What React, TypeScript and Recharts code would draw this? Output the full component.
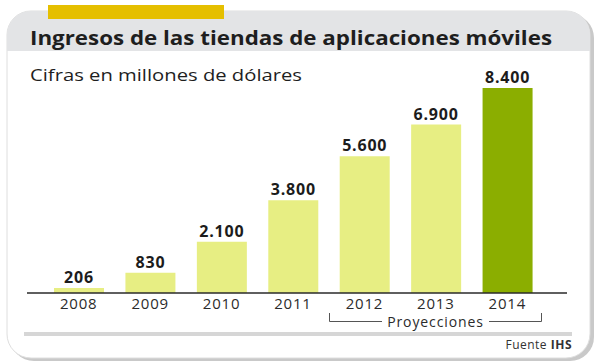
import { BarChart, Bar, XAxis, YAxis, Cell, LabelList } from 'recharts'

/* ── data ─────────────────────────────────────────── */

const years = ['2008', '2009', '2010', '2011', '2012', '2013', '2014']
const revenue = [206, 830, 2100, 3800, 5600, 6900, 8400]
const highlightYear = '2014'

const data = years.map((year, i) => ({ year, value: revenue[i] }))

const FONT = '"Open Sans", "DejaVu Sans", sans-serif'
const BAR = '#e7ee83'
const BAR_HI = '#8bae00'

const fmt = (v: number) => String(v).replace(/\B(?=(\d{3})+(?!\d))/g, '.')

function YearTick({ x, y, payload }: any) {
  return (
    <text x={x} y={y + 8} textAnchor="middle" fontFamily={FONT} fontSize={15} fill="#2b2b2b" letterSpacing={0.8}>
      {payload.value}
    </text>
  )
}

function ValueLabel({ x, y, width, value }: any) {
  return (
    <text x={x + width / 2} y={y - 5} textAnchor="middle" fontFamily={FONT} fontSize={16} fontWeight={700} fill="#1c1c1c" letterSpacing={0.8}>
      {fmt(value)}
    </text>
  )
}

/* ── frame behind the chart ───────────────────────── */

function Frame() {
  return (
    <svg width={600} height={363} style={{ position: 'absolute', left: 0, top: 0 }}>
      <defs>
        <clipPath id="card">
          <rect x={7} y={11} width={583} height={347} rx={24} />
        </clipPath>
      </defs>
      <rect x={10} y={14} width={584} height={347} rx={24} fill="#c9c9c9" />
      <rect x={7} y={11} width={583} height={347} rx={24} fill="#fff" stroke="#dedede" />
      <rect x={0} y={0} width={600} height={51} fill="#e3e4e6" clipPath="url(#card)" />
      <rect x={48} y={5} width={176} height={14} fill="#e5bf00" />
      <text x={30} y={45} fontFamily={FONT} fontSize={19} fontWeight={700} fill="#1e1e1e" textLength={522} lengthAdjust="spacingAndGlyphs">
        Ingresos de las tiendas de aplicaciones móviles
      </text>
      <text x={30} y={81} fontFamily={FONT} fontSize={17} fill="#1e1e1e" textLength={272} lengthAdjust="spacingAndGlyphs">
        Cifras en millones de dólares
      </text>
      {/* projections bracket */}
      <path d="M329.5 313 V321.5 H382 M489 321.5 H541.5 V313" fill="none" stroke="#555" strokeWidth={1} />
      <text x={435.5} y={327} textAnchor="middle" fontFamily={FONT} fontSize={14} fill="#2b2b2b" letterSpacing={0.9}>
        Proyecciones
      </text>
      <rect x={24} y={332} width={548} height={4} fill="#d6d6d6" />
      <text x={572} y={349} textAnchor="end" fontFamily={FONT} fontSize={12} fill="#333" letterSpacing={0.5}>
        Fuente <tspan fontWeight={700}>IHS</tspan>
      </text>
    </svg>
  )
}

export default function App() {
  return (
    <div style={{ position: 'relative', width: 600, height: 363, background: '#fff' }}>
      <style>{'body{margin:0}'}</style>
      <Frame />
      <div style={{ position: 'absolute', left: 0, top: 0 }}>
        <BarChart width={600} height={363} data={data} margin={{ top: 88, right: 33, left: 27, bottom: 0 }}>
          <XAxis
            dataKey="year"
            height={70}
            padding={{ left: 16, right: 24 }}
            axisLine={{ stroke: '#2a2a2a', strokeWidth: 1.5 }}
            tickLine={false}
            tick={<YearTick />}
            interval={0}
          />
          <YAxis hide domain={[0, 8400]} />
          <Bar dataKey="value" barSize={50} isAnimationActive={false}>
            {data.map((d) => (
              <Cell key={d.year} fill={d.year === highlightYear ? BAR_HI : BAR} />
            ))}
            <LabelList dataKey="value" content={<ValueLabel />} />
          </Bar>
        </BarChart>
      </div>
    </div>
  )
}
